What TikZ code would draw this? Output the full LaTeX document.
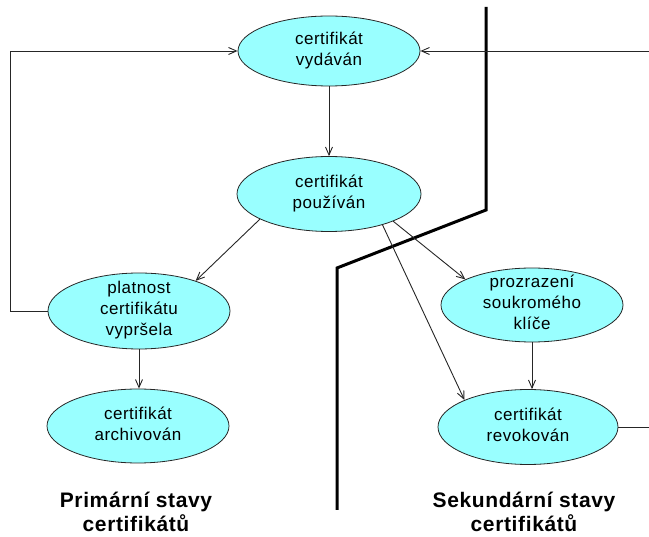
\documentclass[tikz,border=0pt]{standalone}
\usepackage{fontspec}
\setmainfont{Liberation Sans}
\newfontfamily\ellfont[LetterSpace=3]{Liberation Sans}
\newfontfamily\labfont[LetterSpace=3]{Liberation Sans}
\usetikzlibrary{shapes.geometric,arrows.meta}
\definecolor{statefill}{RGB}{153,255,255}
\newcommand\stk[1]{\smash{\raisebox{-4pt}{\begin{tabular}{@{}c@{}}#1\end{tabular}}}}
\begin{document}
\begin{tikzpicture}[x=1pt,y=-1pt,
  state/.style={ellipse, draw=black!85, line width=0.8pt, fill=statefill, inner sep=0pt,
    font=\ellfont\fontsize{17}{21}\selectfont},
  conn/.style={draw=black!85, line width=0.9pt, -{Straight Barb[length=8pt,width=7pt]}},
  plain/.style={draw=black!85, line width=0.9pt},
  divider/.style={line width=3pt, line join=miter},
  caption/.style={font=\labfont\bfseries\fontsize{21}{24}\selectfont, align=center}]
\useasboundingbox (0,0) rectangle (649,537);
% divider
\draw[divider] (486,7) -- (486,210) -- (337,268) -- (337,510);
% states
\node[state, minimum width=182pt, minimum height=70pt] (A) at (329,51) {\stk{certifikát\\vydáván}};
\node[state, minimum width=184pt, minimum height=75pt] (B) at (329,194) {\stk{certifikát\\používán}};
\node[state, minimum width=182pt, minimum height=76pt] (C) at (139,311) {\stk{platnost\\certifikátu\\vypršela}};
\node[state, minimum width=182pt, minimum height=74pt] (D) at (138,426) {\stk{certifikát\\archivován}};
\node[state, minimum width=182pt, minimum height=74pt] (E) at (532,305) {\stk{prozrazení\\soukromého\\klíče}};
\node[state, minimum width=180pt, minimum height=75pt] (F) at (528,427) {\stk{certifikát\\revokován}};
% free ends
\coordinate (lc) at (10,0);
\coordinate (rin) at (649,51);
\coordinate (rout) at (649,427);
% connectors
\draw[conn] (A.south) -- (B.north);
\draw[conn] (B.200) -- (C.28);
\draw[conn] (B.337) -- (E.159);
\draw[conn] (B.330) -- (F.157);
\draw[conn] (C.south) -- (C.south |- D.north);
\draw[conn] (E.south) -- (E.south |- F.north);
\draw[conn] (C.west) -- (C.west -| lc) |- (A.west);
\draw[conn] (rin) -- (A.east);
\draw[plain] (F.east) -- (rout);
% captions
\node[caption] (P) at (136,512) {Primární stavy\\certifikátů};
\node[caption] (S) at (524,512) {Sekundární stavy\\certifikátů};
\end{tikzpicture}
\end{document}
